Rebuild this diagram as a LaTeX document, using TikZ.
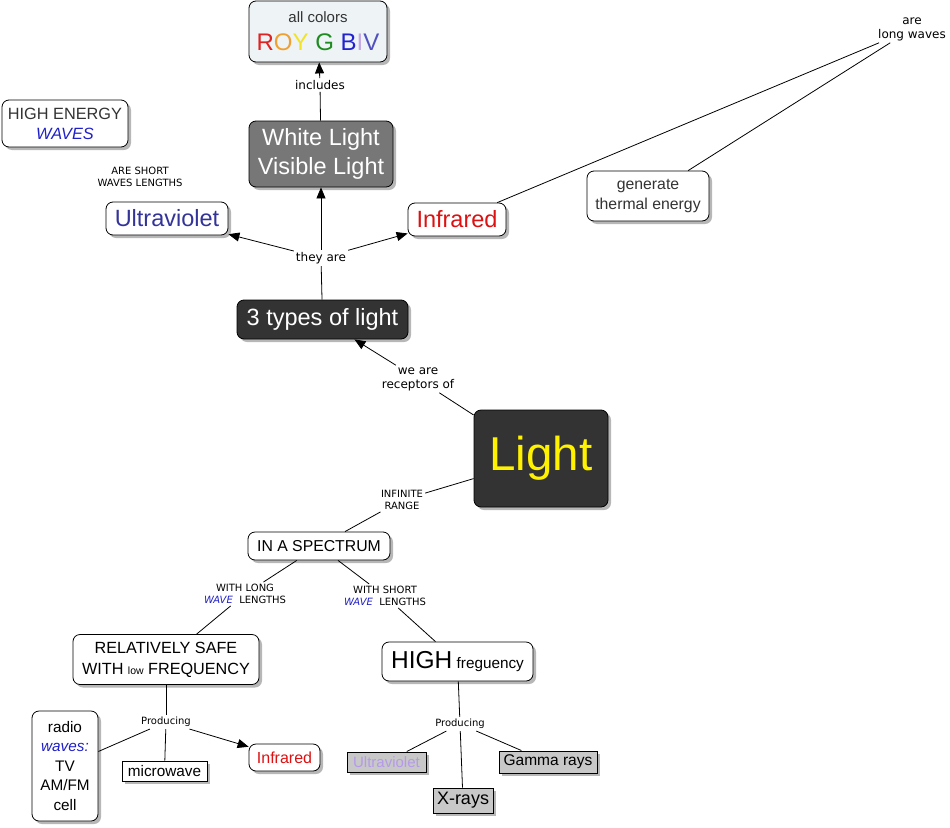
\documentclass[tikz,border=0pt]{standalone}
\usepackage{fontspec}
\setmainfont{Liberation Sans}
\newfontfamily\labfont{DejaVu Sans}
\usetikzlibrary{arrows.meta,shadows}
\newcommand{\fsz}[2]{\fontsize{#1}{#2}\selectfont}
\definecolor{boxblue}{HTML}{EEF3F6}
\definecolor{txtgray}{HTML}{333333}
\definecolor{royR}{HTML}{E02222}
\definecolor{royO}{HTML}{F0A030}
\definecolor{royY}{HTML}{F2E422}
\definecolor{royG}{HTML}{1E8C1E}
\definecolor{royB}{HTML}{2222D0}
\definecolor{royI}{HTML}{C4A8E6}
\definecolor{royV}{HTML}{5050C0}
\definecolor{uvblue}{HTML}{333399}
\definecolor{waveblue}{HTML}{2020C8}
\definecolor{irred}{HTML}{DD1111}
\definecolor{darkbox}{HTML}{333333}
\definecolor{midbox}{HTML}{777777}
\definecolor{grayfill}{HTML}{C8C8C8}
\definecolor{uvpurple}{HTML}{B49AE8}
\begin{document}
\begin{tikzpicture}[x=1pt,y=-1pt,
  shad/.style={drop shadow={shadow xshift=3pt,shadow yshift=-3pt,fill=black!40,opacity=0.7}},
  box/.style={draw=black,line width=0.8pt,rounded corners=7pt,fill=white,inner sep=0pt,align=center,shad},
  sq/.style={draw=black,line width=1pt,inner sep=0pt,align=center,fill=white,shad},
  lab/.style={font=\labfont\fsz{12}{14},inner sep=2pt,align=center,text=black},
  labs/.style={font=\labfont\fsz{10}{12},inner sep=2pt,align=center,text=black},
  ln/.style={draw=black,line width=0.8pt},
  arr/.style={draw=black,line width=0.8pt,-{Triangle[length=11pt,width=9pt]}}
]
\useasboundingbox (0,0) rectangle (950,827);

% nodes
\node[box,fill=boxblue,minimum width=138,minimum height=61,font=\fsz{24}{28}] (colors) at (318,31.5)
  {{\fsz{15}{18}\color{txtgray}all colors}\\{\color{royR}R\color{royO}O\color{royY}Y \color{royG}G \color{royB}B\color{royI}I\color{royV}V}};
\node[box,fill=midbox,minimum width=144,minimum height=66,text=white,font=\fsz{23.5}{29}] (white) at (321,154)
  {White Light\\Visible Light};
\node[box,minimum width=126,minimum height=47,font=\fsz{16.3}{20}] (energy) at (65,123.5)
  {{\color{txtgray}HIGH ENERGY}\\{\color{waveblue}\itshape WAVES}};
\node[box,minimum width=122,minimum height=33,text=uvblue,font=\fsz{23.5}{26}] (uv) at (167,218.5) {Ultraviolet};
\node[box,minimum width=98,minimum height=33,text=irred,font=\fsz{23.5}{26}] (ir) at (457,219.5) {Infrared};
\node[box,minimum width=122,minimum height=50,text=txtgray,font=\fsz{15.8}{20}] (gen) at (648,196)
  {generate\\thermal energy};
\node[box,fill=darkbox,minimum width=171,minimum height=39,text=white,font=\fsz{23.5}{26}] (types) at (322.5,319.5) {3 types of light};
\node[box,fill=darkbox,minimum width=134,minimum height=97,text=yellow,font=\fsz{47.5}{50}] (light) at (541,458.5) {Light};
\node[box,minimum width=142,minimum height=28,font=\fsz{15.8}{18}] (spec) at (319,546) {IN A SPECTRUM};
\node[box,minimum width=186,minimum height=50,font=\fsz{16.2}{21}] (safe) at (166,659.5)
  {RELATIVELY SAFE\\WITH {\fsz{10.5}{12}low} FREQUENCY};
\node[box,minimum width=151,minimum height=39,font=\fsz{15.3}{18}] (high) at (457.5,661.5)
  {{\fsz{24.5}{26}HIGH} freguency};
\node[box,minimum width=66,minimum height=110,font=\fsz{15.3}{19.5}] (radio) at (65,766)
  {radio\\{\color{waveblue}\itshape waves:}\\TV\\AM/FM\\cell};
\node[sq,minimum width=85,minimum height=20,font=\fsz{15.3}{17}] (micro) at (164.5,771) {microwave};
\node[box,minimum width=71,minimum height=27,text=irred,font=\fsz{16}{18}] (irs) at (284.5,757.5) {Infrared};
\node[sq,fill=grayfill,minimum width=79,minimum height=20,text=uvpurple,font=\fsz{15}{17}] (uvs) at (386.5,762) {Ultraviolet};
\node[sq,fill=grayfill,minimum width=98,minimum height=22,font=\fsz{15.5}{17}] (gam) at (548,762) {Gamma rays};
\node[sq,fill=grayfill,minimum width=60,minimum height=25,font=\fsz{18}{20}] (xr) at (463,800.5) {X-rays};

% labels
\node[lab] (inc) at (320,85) {includes};
\node[lab] (they) at (321,258) {they are};
\node[lab] (recep) at (418,379) {we are\\receptors of};
\node[lab] (long) at (912,29) {are\\long waves};
\node[labs] (short) at (140,177) {ARE SHORT\\WAVES LENGTHS};
\node[labs] (inf) at (402,500) {INFINITE\\RANGE};
\node[labs] (wlong) at (245,594) {WITH LONG\\{\color{waveblue}\itshape WAVE}\ \ LENGTHS};
\node[labs] (wshort) at (385,596) {WITH SHORT\\{\color{waveblue}\itshape WAVE}\ \ LENGTHS};
\node[labs] (prodL) at (166,722) {Producing};
\node[labs] (prodR) at (460,724) {Producing};

% connectors
\draw[ln] (white) -- (inc);
\draw[arr] (inc) -- (colors);
\draw[ln] (types) -- (they);
\draw[arr] (they) -- (white);
\draw[arr] (they) -- (uv);
\draw[arr] (they) -- (ir);
\draw[ln] (light) -- (recep);
\draw[arr] (recep) -- (types);
\draw[ln] (ir) -- (long);
\draw[ln] (long) -- (gen);
\draw[ln] (light) -- (inf);
\draw[ln] (inf) -- (spec);
\draw[ln] (spec) -- (wlong);
\draw[ln] (wlong) -- (safe);
\draw[ln] (spec) -- (wshort);
\draw[ln] (wshort) -- (high);
\draw[ln] (safe) -- (prodL);
\draw[ln] (prodL) -- (radio);
\draw[ln] (prodL) -- (micro);
\draw[arr] (prodL) -- (irs);
\draw[ln] (high) -- (prodR);
\draw[ln] (prodR) -- (uvs);
\draw[ln] (prodR) -- (xr);
\draw[ln] (prodR) -- (gam);
\end{tikzpicture}
\end{document}
